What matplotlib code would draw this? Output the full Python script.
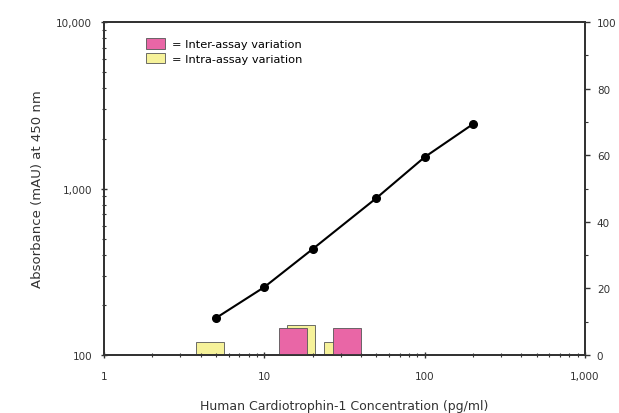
import matplotlib
matplotlib.use("Agg")
import matplotlib.pyplot as plt
import numpy as np
from matplotlib.ticker import FixedLocator, NullFormatter
from matplotlib.patches import Patch

# Standard curve
concentration = [5, 10, 20, 50, 100, 200]
absorbance = [167, 256, 433, 877, 1546, 2440]

# Assay variation (% CV), placed at concentration positions on the log axis
inter_conc = [15, 33]
inter_cv = [8, 8]
intra_conc = [4.6, 17, 29]
intra_cv = [4, 9, 4]

x_ticks = [1, 10, 100, 1000]
x_tick_labels = ["1", "10", "100", "1,000"]
y_ticks = [100, 1000, 10000]
y_tick_labels = ["100", "1,000", "10,000"]
cv_ticks = [0, 20, 40, 60, 80, 100]

pink = "#e966a6"
yellow = "#f6f29a"
ink = "#333333"
bar_width_dec = 0.175

fig = plt.figure(figsize=(6.19, 4.14), dpi=100)
ax = fig.add_axes([0.168, 0.140, 0.777, 0.804])
ax2 = ax.twinx()

ax.set_xscale("log")
ax.set_yscale("log")
ax.set_xlim(1, 1000)
ax.set_ylim(100, 10000)
ax2.set_ylim(0, 100)


def log_bars(axis, centers, heights, color, z):
    centers = np.asarray(centers, dtype=float)
    lefts = centers * 10 ** (-bar_width_dec / 2)
    widths = centers * 10 ** (bar_width_dec / 2) - lefts
    axis.bar(lefts, heights, width=widths, align="edge", color=color,
             edgecolor="#555555", linewidth=0.6, zorder=z)


log_bars(ax2, intra_conc, intra_cv, yellow, 2)
log_bars(ax2, inter_conc, inter_cv, pink, 3)

ax.set_zorder(ax2.get_zorder() + 1)
ax.patch.set_visible(False)
ax.plot(concentration, absorbance, color="black", lw=1.5, marker="o",
        markersize=5.5, zorder=5)

ax.xaxis.set_major_locator(FixedLocator(x_ticks))
ax.set_xticklabels(x_tick_labels)
ax.yaxis.set_major_locator(FixedLocator(y_ticks))
ax.set_yticklabels(y_tick_labels)
ax.xaxis.set_minor_formatter(NullFormatter())
ax.yaxis.set_minor_formatter(NullFormatter())
ax2.yaxis.set_major_locator(FixedLocator(cv_ticks))
ax2.yaxis.set_minor_locator(FixedLocator(range(10, 100, 20)))

for a in (ax, ax2):
    for s in a.spines.values():
        s.set_linewidth(1.3)
        s.set_color(ink)

ax.tick_params(axis="both", which="major", direction="inout", length=5,
               width=1, labelsize=7.5, colors=ink)
ax.tick_params(axis="y", which="major", pad=6)
ax.tick_params(axis="x", which="major", pad=9)
ax.tick_params(axis="both", which="minor", direction="inout", length=3,
               width=0.8, colors=ink)
ax2.tick_params(axis="y", which="major", direction="out", length=3.5,
                width=1, labelsize=7.5, colors=ink, pad=5)
ax2.tick_params(axis="y", which="minor", direction="out", length=2,
                width=0.8, colors=ink)

ax.set_ylabel("Absorbance (mAU) at 450 nm", fontsize=9.5, color=ink,
              labelpad=9)
ax.set_xlabel("Human Cardiotrophin-1 Concentration (pg/ml)", fontsize=9,
              color=ink, labelpad=13)

handles = [Patch(facecolor=pink, edgecolor="#555555", linewidth=0.6),
           Patch(facecolor=yellow, edgecolor="#555555", linewidth=0.6)]
ax.legend(handles, ["= Inter-assay variation", "= Intra-assay variation"],
          loc="upper left", bbox_to_anchor=(0.07, 0.975), frameon=False,
          fontsize=8.2, handlelength=1.7, handleheight=1.0,
          handletextpad=0.6, labelspacing=0.3, borderaxespad=0.3)

fig.savefig("out.png", dpi=100)
